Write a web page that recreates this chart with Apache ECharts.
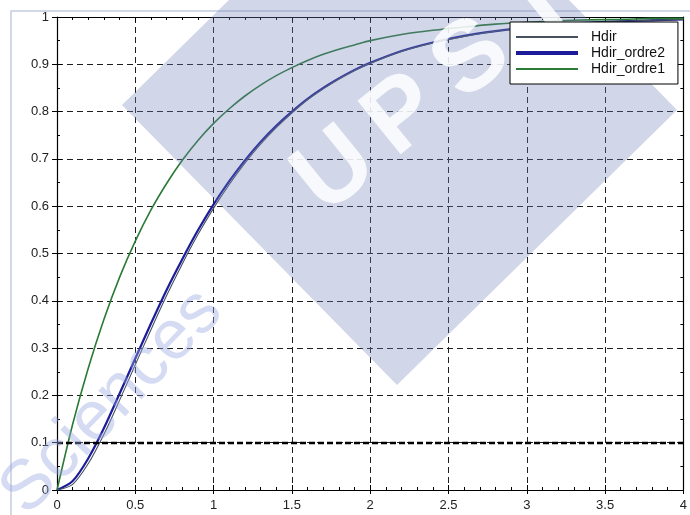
<!DOCTYPE html>
<html>
<head>
<meta charset="utf-8">
<script src="https://cdn.jsdelivr.net/npm/echarts@6/dist/echarts.min.js"></script>
<style>
  html, body { margin: 0; padding: 0; background: #fff; }
  #chart { width: 690px; height: 515px; }
</style>
</head>
<body>
<div id="chart"></div>
<script>
// Step responses sampled over time (s)
const timeValues = [0, 0.1, 0.2, 0.3, 0.4, 0.5, 0.6, 0.7, 0.8, 0.9, 1.0,
  1.1, 1.2, 1.3, 1.4, 1.5, 1.6, 1.7, 1.8, 1.9, 2.0,
  2.2, 2.4, 2.6, 2.8, 3.0, 3.2, 3.4, 3.6, 3.8, 4.0];

const hdir = [0, 0.012, 0.056, 0.118, 0.190, 0.265, 0.339, 0.411, 0.478, 0.540, 0.596,
  0.646, 0.691, 0.731, 0.766, 0.797, 0.825, 0.848, 0.869, 0.887, 0.902,
  0.927, 0.945, 0.959, 0.970, 0.977, 0.983, 0.988, 0.991, 0.993, 0.995];

const hdirOrdre2 = [0, 0.019, 0.067, 0.131, 0.204, 0.278, 0.352, 0.423, 0.488, 0.549, 0.604,
  0.653, 0.697, 0.736, 0.770, 0.800, 0.827, 0.850, 0.870, 0.888, 0.903,
  0.928, 0.946, 0.960, 0.970, 0.978, 0.984, 0.988, 0.991, 0.993, 0.995];

const hdirOrdre1 = [0, 0.139, 0.258, 0.361, 0.450, 0.526, 0.592, 0.648, 0.697, 0.739, 0.775,
  0.806, 0.833, 0.856, 0.876, 0.893, 0.908, 0.921, 0.932, 0.941, 0.950,
  0.963, 0.972, 0.979, 0.985, 0.989, 0.992, 0.994, 0.995, 0.997, 0.997];

const seriesNames = ['Hdir', 'Hdir_ordre2', 'Hdir_ordre1'];
const seriesColors = ['#46505f', '#1c1c9a', '#2b7a35'];
const xRange = [0, 4];
const yRange = [0, 1];
const highlightLevel = 0.1;

// Watermark lettering
const logoLetters = ['U', 'P', 'S', 'T', 'I'];
const logoText = 'Sciences';

const FONT = '"Liberation Sans", Arial, sans-serif';
const pairs = (ys) => timeValues.map((t, i) => [t, ys[i]]);

const dashed = { color: '#1e1e1e', width: 1, type: [6, 4] };

const baseX = { type: 'value', min: xRange[0], max: xRange[1], interval: 0.5 };
const baseY = { type: 'value', min: yRange[0], max: yRange[1], interval: 0.1 };

// thin bar icons for the legend keys
const barIcon = (h) => 'path://M0,0L62,0L62,' + h + 'L0,' + h + 'Z';

const logoGraphics = logoLetters.map((ch, i) => ({
  type: 'text', z: 6, silent: true,
  x: 336 + i * 68, y: 172 - i * 56, rotation: 0.68,
  style: {
    text: ch, x: 0, y: 0, align: 'center', verticalAlign: 'middle',
    fontSize: 100, fontWeight: 'bold', fontFamily: FONT, fill: 'rgba(255,255,255,0.85)'
  }
}));

const chart = echarts.init(document.getElementById('chart'), null, { renderer: 'canvas' });

chart.setOption({
  animation: false,
  backgroundColor: '#ffffff',
  grid: { left: 57, right: 5, top: 17, bottom: 25, containLabel: false },
  xAxis: [
    Object.assign({}, baseX, {
      position: 'bottom',
      axisLine: { show: true, onZero: false, lineStyle: { color: '#000', width: 1.2 } },
      axisTick: { show: true, inside: false, length: 4, lineStyle: { color: '#000' } },
      minorTick: { show: false },
      axisLabel: { color: '#222', fontSize: 13, fontFamily: FONT, margin: 9 },
      splitLine: { show: true, lineStyle: dashed }
    }),
    Object.assign({}, baseX, {
      position: 'bottom',
      axisLine: { show: false, onZero: false },
      axisTick: { show: true, inside: true, length: 5, lineStyle: { color: '#000' } },
      minorTick: { show: true, splitNumber: 5, length: 3, lineStyle: { color: '#000' } },
      axisLabel: { show: false },
      splitLine: { show: false }
    }),
    Object.assign({}, baseX, {
      position: 'top',
      axisLine: { show: true, onZero: false, lineStyle: { color: '#000', width: 1.2 } },
      axisTick: { show: true, inside: true, length: 5, lineStyle: { color: '#000' } },
      minorTick: { show: true, splitNumber: 5, length: 3, lineStyle: { color: '#000' } },
      axisLabel: { show: false },
      splitLine: { show: false }
    })
  ],
  yAxis: [
    Object.assign({}, baseY, {
      position: 'left',
      axisLine: { show: true, onZero: false, lineStyle: { color: '#000', width: 1.2 } },
      axisTick: { show: true, inside: false, length: 5, lineStyle: { color: '#000' } },
      minorTick: { show: false },
      axisLabel: { color: '#222', fontSize: 13, fontFamily: FONT, margin: 8 },
      splitLine: { show: true, lineStyle: dashed }
    }),
    Object.assign({}, baseY, {
      position: 'left',
      axisLine: { show: false, onZero: false },
      axisTick: { show: true, inside: true, length: 5, lineStyle: { color: '#000' } },
      minorTick: { show: true, splitNumber: 2, length: 3, lineStyle: { color: '#000' } },
      axisLabel: { show: false },
      splitLine: { show: false }
    }),
    Object.assign({}, baseY, {
      position: 'right',
      axisLine: { show: true, onZero: false, lineStyle: { color: '#000', width: 1.2 } },
      axisTick: { show: true, inside: true, length: 5, lineStyle: { color: '#000' } },
      minorTick: { show: true, splitNumber: 2, length: 3, lineStyle: { color: '#000' } },
      axisLabel: { show: false },
      splitLine: { show: false }
    })
  ],
  legend: {
    orient: 'vertical',
    left: 510,
    top: 22,
    padding: [8, 13, 8, 6],
    itemGap: 2,
    itemWidth: 62,
    itemHeight: 14,
    backgroundColor: '#ffffff',
    borderColor: '#000',
    borderWidth: 1,
    borderRadius: 0,
    z: 10,
    textStyle: { fontSize: 14, color: '#111', fontFamily: FONT, padding: [0, 0, 0, 8], lineHeight: 14 },
    data: [
      { name: seriesNames[0], icon: barIcon(2), itemStyle: { color: seriesColors[0] } },
      { name: seriesNames[1], icon: barIcon(4), itemStyle: { color: seriesColors[1] } },
      { name: seriesNames[2], icon: barIcon(2), itemStyle: { color: seriesColors[2] } }
    ]
  },
  graphic: [
    {
      type: 'rect', z: -1, silent: true,
      shape: { x: 11, y: 11, width: 720, height: 560 },
      style: { fill: 'none', stroke: '#c3cbe0', lineWidth: 1.5 }
    },
    {
      type: 'polygon', z: 5, silent: true,
      shape: { points: [[122, 105], [402, -170], [677, 110], [397, 385]] },
      style: { fill: 'rgba(112,126,183,0.32)' }
    }
  ].concat(logoGraphics, [
    {
      type: 'text', z: 6, silent: true,
      x: 112, y: 402, rotation: 0.8,
      style: {
        text: logoText, x: 0, y: 0, align: 'center', verticalAlign: 'middle',
        fontSize: 70, fontFamily: FONT, fill: 'rgba(150,165,222,0.4)'
      }
    }
  ]),
  series: [
    {
      name: seriesNames[1], type: 'line', xAxisIndex: 0, yAxisIndex: 0,
      data: pairs(hdirOrdre2), smooth: 0.3, showSymbol: false, symbol: 'none',
      lineStyle: { color: seriesColors[1], width: 2.2 }, itemStyle: { color: seriesColors[1] },
      markLine: {
        silent: true, symbol: 'none', label: { show: false },
        lineStyle: { color: '#000', width: 2.4, type: [6, 3] },
        data: [{ yAxis: highlightLevel }]
      }
    },
    {
      name: seriesNames[0], type: 'line', xAxisIndex: 0, yAxisIndex: 0,
      data: pairs(hdir), smooth: 0.3, showSymbol: false, symbol: 'none',
      lineStyle: { color: seriesColors[0], width: 1.1 }, itemStyle: { color: seriesColors[0] }
    },
    {
      name: seriesNames[2], type: 'line', xAxisIndex: 0, yAxisIndex: 0,
      data: pairs(hdirOrdre1), smooth: 0.3, showSymbol: false, symbol: 'none',
      lineStyle: { color: seriesColors[2], width: 1.6 }, itemStyle: { color: seriesColors[2] }
    }
  ]
});
</script>
</body>
</html>
